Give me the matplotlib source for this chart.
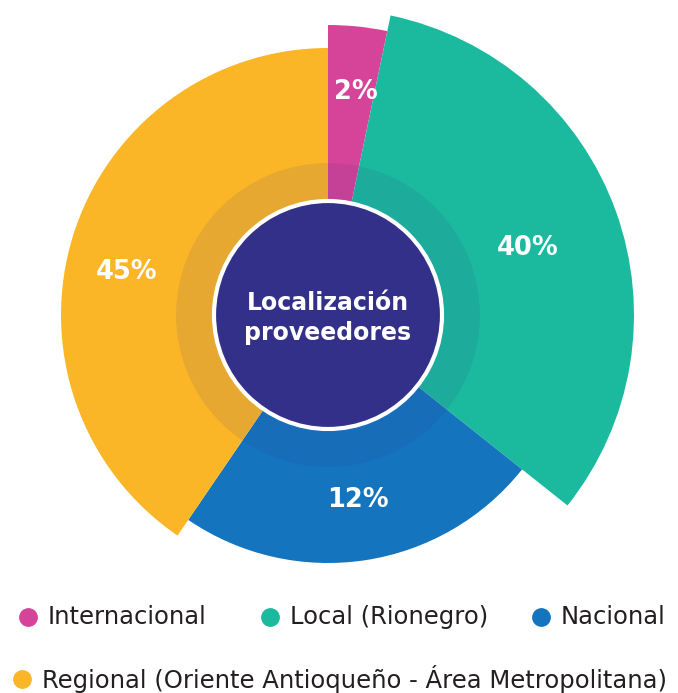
import matplotlib
matplotlib.use("Agg")
import matplotlib.pyplot as plt
import matplotlib.patches as patches
import numpy as np

# data
categories = ["Internacional", "Local (Rionegro)", "Nacional",
              "Regional (Oriente Antioqueño - Área Metropolitana)"]
labels = ["2%", "40%", "12%", "45%"]
# angular share of each slice as drawn (degrees)
spans = [11.8, 116.7, 85.8, 145.7]
# outer radius of each slice (pixels)
radii = [290, 306, 248, 267]
# where each percentage sits (distance px, angle deg)
label_dist = [225, 211, 187, 206]
label_ang = [83, 18.5, -80.8, 168]
colors = ["#D6449A", "#1BBA9F", "#1474BD", "#FBB627"]
center_title = "Localización\nproveedores"

W, H = 678, 693
cx, cy = 328, 315  # pie centre in image pixels (y down)

fig = plt.figure(figsize=(W / 100, H / 100), dpi=100)
ax = fig.add_axes([0, 0, 1, 1])

wedges, _ = ax.pie(spans, colors=colors, startangle=90, counterclock=False,
                   radius=1, wedgeprops=dict(linewidth=0))
for w, r in zip(wedges, radii):
    w.set_radius(r)

# percentage labels
for lab, d, a in zip(labels, label_dist, label_ang):
    t = np.deg2rad(a)
    ax.text(d * np.cos(t), d * np.sin(t), lab, color="white",
            fontsize=18.5, fontweight="bold", ha="center", va="center")

# translucent ring + centre disc
ax.add_patch(patches.Circle((0, 0), 152, facecolor="#33308A", alpha=0.10,
                            linewidth=0, zorder=3))
ax.add_patch(patches.Circle((0, 0), 114, facecolor="#33308A",
                            edgecolor="white", linewidth=3, zorder=4))
ax.text(0, -3, center_title, color="white", fontsize=17, fontweight="bold",
        ha="center", va="center", linespacing=1.3, zorder=5)

# legend, laid out like the original (3 items, then 1)
leg_rows = [617, 617, 617, 679]
leg_x = [28, 270, 541, 22]
for name, col, lx, ly in zip(categories, colors, leg_x, leg_rows):
    ax.plot(lx - cx, cy - ly, "o", color=col, markersize=12.5, clip_on=False)
    ax.text(lx - cx + 20, cy - ly, name, color="#231F20", fontsize=17.5,
            ha="left", va="center")

ax.set_aspect("equal")
ax.set_xlim(-cx, W - cx)
ax.set_ylim(-(H - cy), cy)
ax.axis("off")

fig.savefig("out.png", dpi=100)
